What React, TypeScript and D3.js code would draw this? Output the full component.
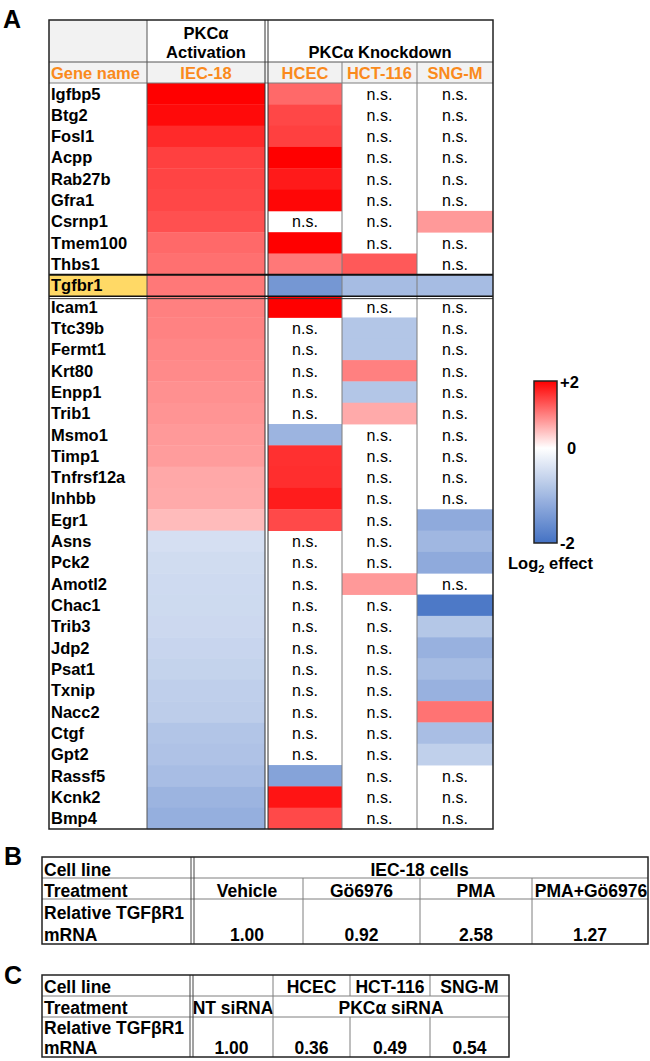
import React from 'react';
import * as d3 from 'd3';

// ---- data (log2 effect, null = n.s.) ----
const genes = [
  'Igfbp5', 'Btg2', 'Fosl1', 'Acpp', 'Rab27b', 'Gfra1', 'Csrnp1', 'Tmem100', 'Thbs1',
  'Tgfbr1',
  'Icam1', 'Ttc39b', 'Fermt1', 'Krt80', 'Enpp1', 'Trib1', 'Msmo1', 'Timp1', 'Tnfrsf12a',
  'Inhbb', 'Egr1', 'Asns', 'Pck2', 'Amotl2', 'Chac1', 'Trib3', 'Jdp2', 'Psat1', 'Txnip',
  'Nacc2', 'Ctgf', 'Gpt2', 'Rassf5', 'Kcnk2', 'Bmp4',
];

const iec18 = [
  2.0, 1.92, 1.67, 1.5, 1.47, 1.44, 1.37, 1.18, 1.12,
  1.06,
  1.0, 0.98, 0.95, 0.92, 0.87, 0.84, 0.8, 0.78, 0.68,
  0.67, 0.53, -0.45, -0.5, -0.52, -0.53, -0.55, -0.59, -0.63, -0.68,
  -0.71, -0.82, -0.86, -0.93, -1.06, -1.13,
];

const hcec: (number | null)[] = [
  1.18, 1.44, 1.5, 2.0, 1.8, 1.95, null, 2.0, 1.06,
  -1.48,
  2.0, null, null, null, null, null, -1.06, 1.62, 1.64,
  1.78, 1.43, null, null, null, null, null, null, null, null,
  null, null, null, -1.3, 1.84, 1.43,
];

const hct116: (number | null)[] = [
  null, null, null, null, null, null, null, null, 1.3,
  -0.95,
  null, -0.81, -0.81, 1.0, -0.81, 0.67, null, null, null,
  null, null, null, null, 0.8, null, null, null, null, null,
  null, null, null, null, null, null,
];

const sngm: (number | null)[] = [
  null, null, null, null, null, null, 0.8, null, null,
  -0.95,
  null, null, null, null, null, null, null, null, null,
  null, -1.2, -1.02, -1.2, null, -1.9, -0.8, -1.1, -0.95, -1.1,
  1.1, -0.92, -0.67, null, null, null,
];

const highlightGene = 'Tgfbr1';

const bTreatments = ['Vehicle', 'Gö6976', 'PMA', 'PMA+Gö6976'];
const bValues = [1.0, 0.92, 2.58, 1.27];

const cCellLines = ['HCEC', 'HCT-116', 'SNG-M'];
const cValues = [1.0, 0.36, 0.49, 0.54];

const FONT = "'Liberation Sans', Arial, Helvetica, sans-serif";
const ORANGE = '#FA8A1C';
const BLUE = '#4472C4';
const GRID = '#7f7f7f';
const fmt = d3.format('.2f');

export default function App() {
  const y = d3.scaleBand<string>().domain(genes).range([83, 829]);
  const color = d3
    .scaleLinear<string>()
    .domain([-2, 0, 2])
    .range([BLUE, '#ffffff', '#ff0000'])
    .clamp(true);

  const cols = [
    { name: 'IEC-18', vals: iec18 as (number | null)[], x0: 147, x1: 265 },
    { name: 'HCEC', vals: hcec, x0: 268, x1: 342 },
    { name: 'HCT-116', vals: hct116, x0: 342, x1: 417 },
    { name: 'SNG-M', vals: sngm, x0: 417, x1: 493 },
  ];

  const hi = y(highlightGene)!;
  const bw = y.bandwidth();

  // colour bar
  const cb = d3.scaleLinear().domain([2, 0, -2]).range([381, 448, 543]);
  const cbStops = d3.range(-2, 2.01, 0.1).map(v => ({
    off: (cb(v) - 381) / (543 - 381),
    c: color(v),
  }));

  // panel B / C column edges and row edges
  const bX = [191, 303, 420, 532, 648];
  const cX = [190, 273, 350, 430, 509];
  const cY = [975, 996, 1017, 1057];
  const fsT = 17.5;

  return (
    <svg
      width={650}
      height={1061}
      style={{ position: 'absolute', left: 0, top: 0, background: '#fff' }}
      fontFamily={FONT}
    >
      <defs>
        <linearGradient id="cbgrad" x1="0" y1="0" x2="0" y2="1">
          {cbStops
            .slice()
            .sort((a, b) => a.off - b.off)
            .map((s, i) => (
              <stop key={i} offset={s.off} stopColor={s.c} />
            ))}
        </linearGradient>
      </defs>

      {/* ---------- Panel A ---------- */}
      <text x={3} y={28} fontSize={25} fontWeight="bold">A</text>

      {/* header fills */}
      <rect x={49} y={20} width={98} height={42} fill="#f2f2f2" />
      <rect x={49} y={62} width={444} height={21} fill="#f2f2f2" />

      <text x={206} y={39} fontSize={16.5} fontWeight="bold" textAnchor="middle">PKCα</text>
      <text x={206} y={58} fontSize={16.5} fontWeight="bold" textAnchor="middle">Activation</text>
      <text x={380} y={58} fontSize={16.5} fontWeight="bold" textAnchor="middle">PKCα Knockdown</text>

      <text x={51} y={79} fontSize={16.5} fontWeight="bold" fill={ORANGE}>Gene name</text>
      {cols.map(c => (
        <text key={c.name} x={(c.x0 + c.x1) / 2} y={79} fontSize={16.5} fontWeight="bold"
          fill={ORANGE} textAnchor="middle">{c.name}</text>
      ))}

      {/* highlight gene cell */}
      <rect x={49} y={hi} width={98} height={bw} fill="#FFD966" />

      {/* heat cells */}
      {cols.map(c =>
        genes.map((g, i) => {
          const v = c.vals[i];
          return v === null ? (
            <text key={c.name + g} x={(c.x0 + c.x1) / 2} y={y(g)! + 16.5} fontSize={16}
              textAnchor="middle">n.s.</text>
          ) : (
            <rect key={c.name + g} x={c.x0} y={y(g)!} width={c.x1 - c.x0} height={bw + 0.4}
              fill={color(v)} />
          );
        })
      )}

      {/* gene names */}
      {genes.map(g => (
        <text key={g} x={51} y={y(g)! + 16.5} fontSize={16.5} fontWeight="bold">{g}</text>
      ))}

      {/* grid lines */}
      <line x1={49} x2={493} y1={62} y2={62} stroke="#555" strokeWidth={1} />
      <line x1={49} x2={493} y1={83} y2={83} stroke={GRID} strokeWidth={1} />
      <line x1={147} x2={147} y1={20} y2={829} stroke="#555" strokeWidth={1} />
      <line x1={265} x2={265} y1={20} y2={829} stroke="#333" strokeWidth={1} />
      <line x1={268} x2={268} y1={20} y2={829} stroke="#333" strokeWidth={1} />
      <line x1={342} x2={342} y1={62} y2={829} stroke={GRID} strokeWidth={1} />
      <line x1={417} x2={417} y1={62} y2={829} stroke={GRID} strokeWidth={1} />
      <line x1={49} x2={493} y1={hi} y2={hi} stroke="#111" strokeWidth={2} />
      <line x1={49} x2={493} y1={hi + bw} y2={hi + bw} stroke="#111" strokeWidth={1.5} />
      <line x1={49} x2={493} y1={hi + bw + 2.5} y2={hi + bw + 2.5} stroke="#333" strokeWidth={1} />
      <rect x={49} y={20} width={444} height={809} fill="none" stroke="#222" strokeWidth={1.5} />

      {/* colour bar */}
      <rect x={534} y={381} width={23} height={162} fill="url(#cbgrad)" stroke="#222" strokeWidth={1.5} />
      <text x={560} y={388} fontSize={16.5} fontWeight="bold">+2</text>
      <text x={567} y={454} fontSize={16.5} fontWeight="bold">0</text>
      <text x={560} y={549} fontSize={16.5} fontWeight="bold">-2</text>
      <text x={508} y={569} fontSize={16.5} fontWeight="bold">
        Log<tspan fontSize={11} dy={4}>2</tspan><tspan dy={-4}> effect</tspan>
      </text>

      {/* ---------- Panel B ---------- */}
      <text x={4} y={865} fontSize={25} fontWeight="bold">B</text>
      <g fontSize={fsT} fontWeight="bold">
        <text x={44} y={876}>Cell line</text>
        <text x={44} y={897}>Treatment</text>
        <text x={44} y={919}>Relative TGFβR1</text>
        <text x={44} y={941}>mRNA</text>
        <text x={(bX[0] + bX[4]) / 2} y={876} textAnchor="middle">IEC-18 cells</text>
        {bTreatments.map((t, i) => (
          <text key={t} x={(bX[i] + bX[i + 1]) / 2 + (i === 3 ? 1 : 0)} y={897} textAnchor="middle">{t}</text>
        ))}
        {bValues.map((v, i) => (
          <text key={i} x={(bX[i] + bX[i + 1]) / 2} y={941} textAnchor="middle">{fmt(v)}</text>
        ))}
      </g>
      <line x1={42} x2={648} y1={878} y2={878} stroke={GRID} />
      <line x1={42} x2={648} y1={899} y2={899} stroke={GRID} />
      <line x1={bX[0]} x2={bX[0]} y1={857} y2={944} stroke="#444" />
      <line x1={bX[0] + 3} x2={bX[0] + 3} y1={857} y2={944} stroke="#444" />
      {bX.slice(1, 4).map(x => (
        <line key={x} x1={x} x2={x} y1={878} y2={944} stroke={GRID} />
      ))}
      <rect x={42} y={857} width={606} height={87} fill="none" stroke="#222" strokeWidth={1.5} />

      {/* ---------- Panel C ---------- */}
      <text x={4} y={984} fontSize={25} fontWeight="bold">C</text>
      <g fontSize={fsT} fontWeight="bold">
        <text x={44} y={cY[1] - 3}>Cell line</text>
        <text x={44} y={cY[2] - 3}>Treatment</text>
        <text x={44} y={cY[3] - 23}>Relative TGFβR1</text>
        <text x={44} y={cY[3] - 3}>mRNA</text>
        {cCellLines.map((c, i) => (
          <text key={c} x={(cX[i + 1] + cX[i + 2]) / 2} y={cY[1] - 3} textAnchor="middle">{c}</text>
        ))}
        <text x={(cX[0] + cX[1]) / 2 + 1.5} y={cY[2] - 3} textAnchor="middle">NT siRNA</text>
        <text x={(cX[1] + cX[4]) / 2} y={cY[2] - 3} textAnchor="middle">PKCα siRNA</text>
        {cValues.map((v, i) => (
          <text key={i} x={(cX[i] + cX[i + 1]) / 2} y={cY[3] - 3} textAnchor="middle">{fmt(v)}</text>
        ))}
      </g>
      <line x1={42} x2={cX[4]} y1={cY[1]} y2={cY[1]} stroke={GRID} />
      <line x1={42} x2={cX[4]} y1={cY[2]} y2={cY[2]} stroke={GRID} />
      <line x1={cX[0]} x2={cX[0]} y1={cY[0]} y2={cY[3]} stroke="#444" />
      <line x1={cX[0] + 3} x2={cX[0] + 3} y1={cY[0]} y2={cY[3]} stroke="#444" />
      <line x1={cX[1]} x2={cX[1]} y1={cY[0]} y2={cY[3]} stroke={GRID} />
      {[cX[2], cX[3]].map(x => (
        <line key={x} x1={x} x2={x} y1={cY[0]} y2={cY[1]} stroke={GRID} />
      ))}
      {[cX[2], cX[3]].map(x => (
        <line key={'b' + x} x1={x} x2={x} y1={cY[2]} y2={cY[3]} stroke={GRID} />
      ))}
      <rect x={42} y={cY[0]} width={cX[4] - 42} height={cY[3] - cY[0]} fill="none" stroke="#222" strokeWidth={1.5} />
    </svg>
  );
}
